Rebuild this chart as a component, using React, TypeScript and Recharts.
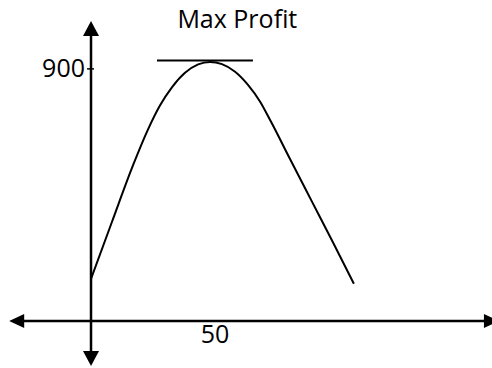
import { Line, LineChart, ReferenceDot, ReferenceLine, XAxis, YAxis } from 'recharts';

// profit curve, read as (quantity, profit) pairs
const quantity = [0, 8.5, 17, 23, 27.8, 32.7, 37.9, 43.2, 48, 52.8, 58.1, 63.3, 68.2, 72.6, 80.2, 89.1, 97.6, 106];
const profit = [150, 355, 557, 684, 769, 835, 886, 916, 925, 917, 890, 843, 783, 711, 579, 426, 280, 133];

const yTickValue = 900;
const xTickValue = 50;
const maxProfitLevel = 930;
const maxProfitSpan = [26.6, 65.3];
const title = 'Max Profit';

const chartData = quantity.map((q, i) => ({ q, p: profit[i] }));

const FONT = '"Open Sans", sans-serif';

type DotProps = { cx?: number; cy?: number };

const arrow = (dir: 'up' | 'down' | 'left' | 'right') => (props: DotProps) => {
  const cx = props.cx ?? 0;
  const cy = props.cy ?? 0;
  const len = 15;
  const half = 8;
  let pts = '';
  if (dir === 'up') pts = `${cx},${cy} ${cx - half},${cy + len} ${cx + half},${cy + len}`;
  if (dir === 'down') pts = `${cx},${cy} ${cx - half},${cy - len} ${cx + half},${cy - len}`;
  if (dir === 'left') pts = `${cx},${cy} ${cx + len},${cy - 7} ${cx + len},${cy + 7}`;
  if (dir === 'right') pts = `${cx},${cy} ${cx - len},${cy - 7} ${cx - len},${cy + 7}`;
  return <polygon points={pts} fill="#000" />;
};

const textAt = (value: string, dx: number, dy: number, anchor: 'start' | 'middle' | 'end') => (props: DotProps) => (
  <text
    x={(props.cx ?? 0) + dx}
    y={(props.cy ?? 0) + dy}
    textAnchor={anchor}
    fontFamily={FONT}
    fontSize={25}
    fill="#000"
  >
    {value}
  </text>
);

export default function App() {
  return (
    <div style={{ position: 'absolute', left: 0, top: 0, background: '#fff' }}>
      <LineChart width={492} height={368} data={chartData} margin={{ top: 0, right: 0, bottom: 0, left: 0 }}>
        <XAxis type="number" dataKey="q" domain={[-36.7, 161.7]} allowDataOverflow hide />
        <YAxis type="number" domain={[-168, 1146]} allowDataOverflow hide />

        {/* axes with arrow heads */}
        <ReferenceLine
          segment={[{ x: 0, y: -150 }, { x: 0, y: 1060 }]}
          stroke="#000"
          strokeWidth={2.5}
          ifOverflow="visible"
        />
        <ReferenceLine
          segment={[{ x: -30, y: 0 }, { x: 161, y: 0 }]}
          stroke="#000"
          strokeWidth={2.5}
          ifOverflow="visible"
        />
        <ReferenceDot x={0} y={1071} ifOverflow="visible" shape={arrow('up')} />
        <ReferenceDot x={0} y={-161} ifOverflow="visible" shape={arrow('down')} />
        <ReferenceDot x={-33} y={0} ifOverflow="visible" shape={arrow('left')} />
        <ReferenceDot x={164.5} y={0} ifOverflow="visible" shape={arrow('right')} />

        {/* tick on the vertical axis */}
        <ReferenceLine
          segment={[{ x: -1.6, y: yTickValue }, { x: 1.2, y: yTickValue }]}
          stroke="#000"
          strokeWidth={1.5}
          ifOverflow="visible"
        />
        <ReferenceDot x={0} y={yTickValue} ifOverflow="visible" shape={textAt(String(yTickValue), -6, 8, 'end')} />
        <ReferenceDot x={xTickValue} y={0} ifOverflow="visible" shape={textAt(String(xTickValue), 0, 22, 'middle')} />

        {/* max profit marker */}
        <ReferenceLine
          segment={[{ x: maxProfitSpan[0], y: maxProfitLevel }, { x: maxProfitSpan[1], y: maxProfitLevel }]}
          stroke="#000"
          strokeWidth={2}
          ifOverflow="visible"
        />
        <ReferenceDot x={59} y={1046} ifOverflow="visible" shape={textAt(title, 0, 0, 'middle')} />

        <Line
          type="monotone"
          dataKey="p"
          stroke="#000"
          strokeWidth={2}
          dot={false}
          activeDot={false}
          isAnimationActive={false}
        />
      </LineChart>
    </div>
  );
}
